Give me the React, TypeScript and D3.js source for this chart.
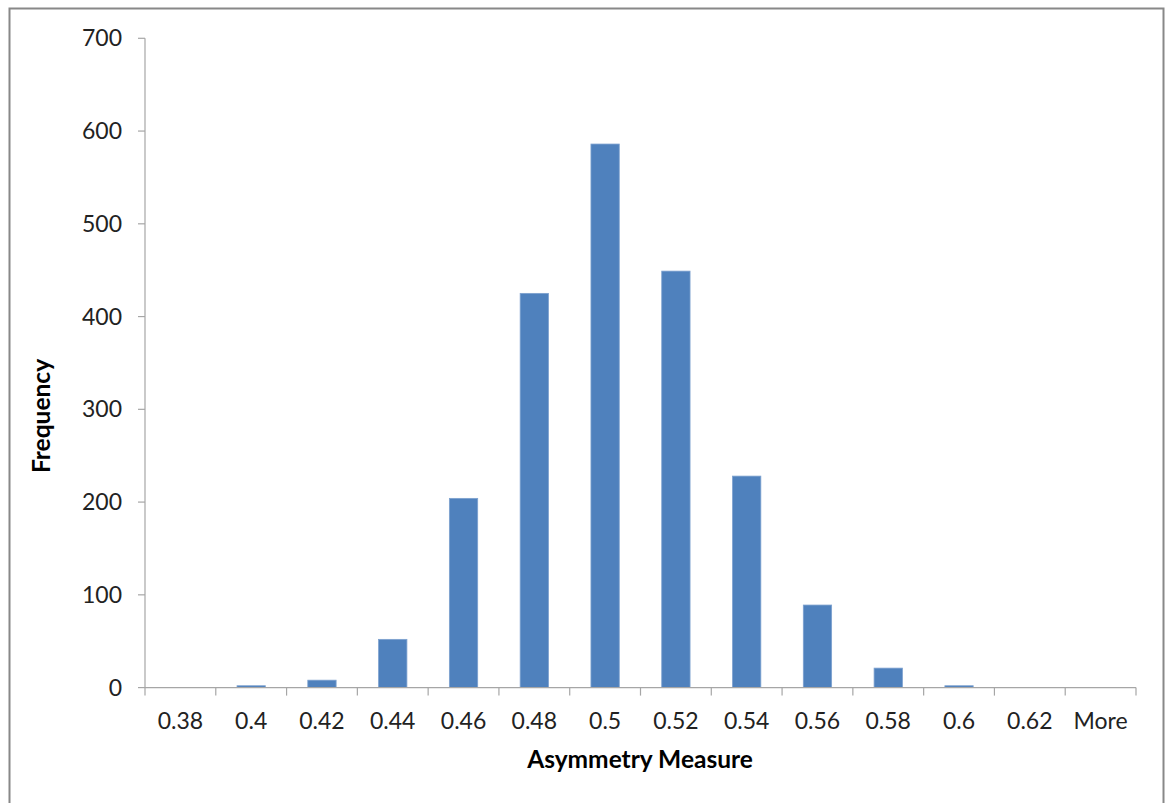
import React from "react";
import * as d3 from "d3";

const categories = ["0.38", "0.4", "0.42", "0.44", "0.46", "0.48", "0.5", "0.52", "0.54", "0.56", "0.58", "0.6", "0.62", "More"];
const frequencies = [0, 2, 8, 52, 204, 425, 586, 449, 228, 89, 21, 2, 0, 0];
const yTicks = [0, 100, 200, 300, 400, 500, 600, 700];

const W = 1168, H = 803;
const M = { left: 145, right: 1136, top: 38.3, bottom: 687.6 };
const FONT = "Lato, 'Open Sans', sans-serif";

export default function App() {
  const x = d3.scaleBand<string>().domain(categories).range([M.left, M.right]).paddingInner(0.6).paddingOuter(0.3);
  const xEdge = d3.scaleBand<string>().domain(categories).range([M.left, M.right]);
  const y = d3.scaleLinear().domain([0, 700]).range([M.bottom, M.top]);

  return (
    <svg width={W} height={H} style={{ position: "absolute", left: 0, top: 0, background: "#fff" }}>
      <rect x={9.5} y={8.5} width={1154} height={800} fill="#fff" stroke="#888" strokeWidth={2} />
      {/* y axis */}
      <line x1={M.left} x2={M.left} y1={M.top} y2={M.bottom} stroke="#a6a6a6" strokeWidth={1.2} />
      {yTicks.map((t) => (
        <g key={t}>
          <line x1={M.left - 7} x2={M.left} y1={y(t)} y2={y(t)} stroke="#a6a6a6" strokeWidth={1.2} />
          <text x={122} y={y(t)} dy="0.35em" textAnchor="end" fontFamily={FONT} fontSize={23} fill="#222">{t}</text>
        </g>
      ))}
      {/* bars */}
      {categories.map((c, i) => (
        <rect key={c} x={x(c)} y={y(frequencies[i])} width={x.bandwidth()} height={M.bottom - y(frequencies[i])}
          fill="#4f81bd" stroke="#7da1cf" strokeWidth={frequencies[i] > 0 ? 0.8 : 0} />
      ))}
      {/* x axis */}
      <line x1={M.left} x2={M.right} y1={M.bottom} y2={M.bottom} stroke="#a6a6a6" strokeWidth={1.2} />
      {categories.map((c) => (
        <line key={"t" + c} x1={xEdge(c)} x2={xEdge(c)} y1={M.bottom} y2={M.bottom + 8} stroke="#a6a6a6" strokeWidth={1.2} />
      ))}
      <line x1={M.right} x2={M.right} y1={M.bottom} y2={M.bottom + 8} stroke="#a6a6a6" strokeWidth={1.2} />
      {categories.map((c) => (
        <text key={"l" + c} x={(xEdge(c) as number) + xEdge.bandwidth() / 2} y={729} textAnchor="middle" fontFamily={FONT} fontSize={23} fill="#222">{c}</text>
      ))}
      <text x={640} y={768} textAnchor="middle" fontFamily={FONT} fontSize={24.5} fontWeight="bold" fill="#000">Asymmetry Measure</text>
      <text transform={`translate(50,416) rotate(-90)`} textAnchor="middle" fontFamily={FONT} fontSize={24.5} fontWeight="bold" fill="#000">Frequency</text>
    </svg>
  );
}
